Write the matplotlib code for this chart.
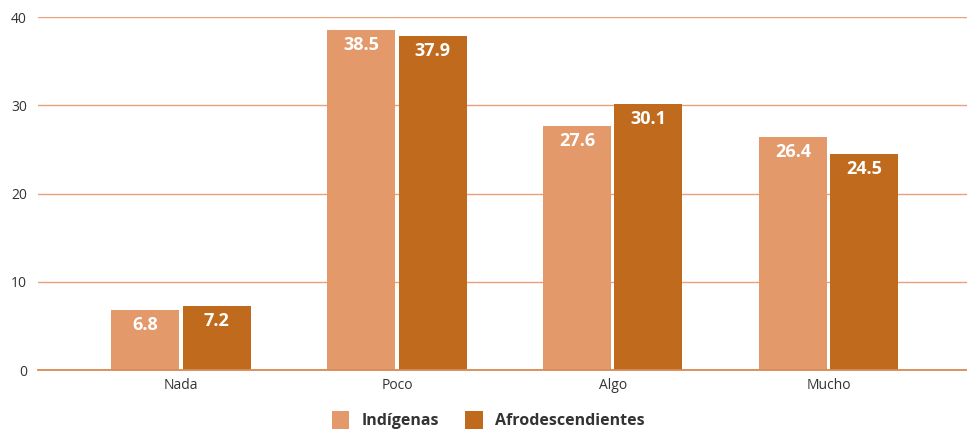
import matplotlib.pyplot as plt
import numpy as np

categorias = ["Nada", "Poco", "Algo", "Mucho"]
indigenas = [6.8, 38.5, 27.6, 26.4]
afro = [7.2, 37.9, 30.1, 24.5]
series = ["Indígenas", "Afrodescendientes"]
yticks = [0, 10, 20, 30, 40]

c_ind = "#E3996A"
c_afro = "#C06A1E"
c_grid = "#E9A277"

plt.rcParams["font.family"] = ["Open Sans", "DejaVu Sans"]

fig = plt.figure(figsize=(9.67, 4.29), dpi=100)
ax = fig.add_axes([0.0393, 0.1375, 0.9607, 0.8228])

x = np.arange(len(categorias))
w = 0.315
off = 0.165
b1 = ax.bar(x - off, indigenas, w, color=c_ind, label=series[0], zorder=3)
b2 = ax.bar(x + off, afro, w, color=c_afro, label=series[1], zorder=3)

for bars, vals in ((b1, indigenas), (b2, afro)):
    for b, v in zip(bars, vals):
        ax.text(b.get_x() + b.get_width() / 2, v - 1.7, f"{v:.1f}",
                ha="center", va="center", color="white", fontsize=13,
                fontweight="bold", zorder=4)

ax.set_ylim(0, 40)
ax.set_xlim(-0.662, 3.64)
ax.set_yticks(yticks)
ax.set_xticks(x)
ax.set_xticklabels(categorias)
ax.grid(axis="y", color=c_grid, linewidth=1, zorder=0)
ax.tick_params(axis="both", length=0, labelsize=10, colors="#333333")
ax.tick_params(axis="y", pad=8)
ax.tick_params(axis="x", pad=6)
for s in ["top", "right", "left"]:
    ax.spines[s].set_visible(False)
ax.spines["bottom"].set_color("#D98A55")
ax.spines["bottom"].set_linewidth(1.3)
ax.spines["bottom"].set_zorder(5)

leg = fig.legend(handles=[b1, b2], labels=series, loc="center",
                 bbox_to_anchor=(0.505, 0.02), ncol=2, frameon=False,
                 prop={"weight": "bold", "size": 11.5}, handlelength=1.1,
                 handleheight=1.3, columnspacing=1.6, handletextpad=0.8)
for t in leg.get_texts():
    t.set_color("#333333")

fig.savefig("out.png", dpi=100)
